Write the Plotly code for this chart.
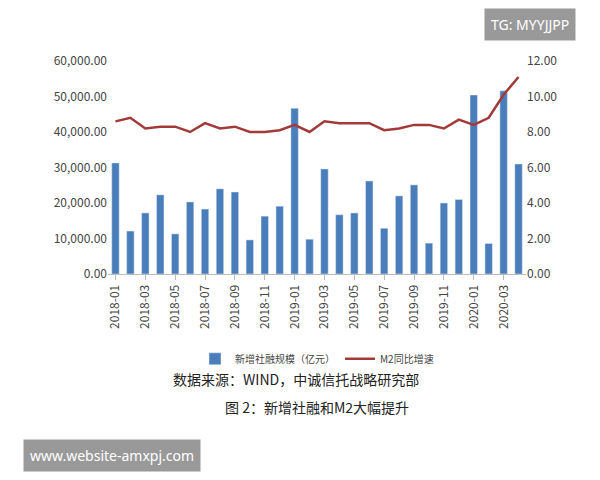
import plotly.graph_objects as go

months = [f"{y}-{m:02d}" for y in (2018, 2019, 2020) for m in range(1, 13)][:28]
tsf = [31300, 12100, 17200, 22300, 11300, 20300, 18300, 24000, 23100, 9600, 16300, 19100,
       46700, 9800, 29600, 16700, 17200, 26200, 12900, 22000, 25100, 8700, 20000, 21000,
       50400, 8600, 51600, 31000]
m2 = [8.6, 8.8, 8.2, 8.3, 8.3, 8.0, 8.5, 8.2, 8.3, 8.0, 8.0, 8.1,
      8.4, 8.0, 8.6, 8.5, 8.5, 8.5, 8.1, 8.2, 8.4, 8.4, 8.2, 8.7,
      8.4, 8.8, 10.1, 11.1]
left_ticks = [0, 10000, 20000, 30000, 40000, 50000, 60000]
left_labels = ["0.00", "10,000.00", "20,000.00", "30,000.00", "40,000.00", "50,000.00", "60,000.00"]
right_ticks = [0, 2, 4, 6, 8, 10, 12]
right_labels = ["0.00", "2.00", "4.00", "6.00", "8.00", "10.00", "12.00"]
shown = months[::2]

fig = go.Figure()
fig.add_bar(x=months, y=tsf, name="新增社融规模（亿元）", marker_color="#4a7ebb")
fig.add_scatter(x=months, y=m2, name="M2同比增速", yaxis="y2", mode="lines",
                line=dict(color="#a33a3a", width=2.5))
fnt = dict(family="Noto Sans CJK SC", size=12, color="#444")
fig.update_layout(
    width=600, height=480, paper_bgcolor="white", plot_bgcolor="white",
    margin=dict(l=100, r=82, t=53, b=214), font=fnt, bargap=0.5,
    xaxis=dict(type="category", tickvals=shown, ticktext=shown, tickangle=-90,
               showline=True, linecolor="#bbb", ticks="outside", tickcolor="#bbb"),
    yaxis=dict(range=[0, 60000], tickvals=left_ticks, ticktext=left_labels, showgrid=False),
    yaxis2=dict(range=[0, 12], tickvals=right_ticks, ticktext=right_labels, overlaying="y",
                side="right", showgrid=False),
    legend=dict(orientation="h", x=0.5, xanchor="center", y=-0.33, yanchor="top",
                font=dict(family="Noto Sans CJK SC", size=10, color="#444")),
    annotations=[
        dict(text="数据来源：WIND，中诚信托战略研究部", xref="paper", yref="paper", x=0.45, y=-0.55,
             showarrow=False, font=dict(family="Noto Sans CJK SC", size=14, color="#222")),
        dict(text="图 2：新增社融和M2大幅提升", xref="paper", yref="paper", x=0.5, y=-0.68,
             showarrow=False, font=dict(family="Noto Sans CJK SC", size=14, color="#222")),
        dict(text="TG: MYYJJPP", xref="paper", yref="paper", x=1.01, y=1.25, xanchor="center",
             showarrow=False, bgcolor="#999", font=dict(family="Noto Sans", size=14, color="white"),
             borderpad=6),
        dict(text="www.website-amxpj.com", xref="paper", yref="paper", x=0.01, y=-0.93, xanchor="center",
             showarrow=False, bgcolor="#999", font=dict(family="Noto Sans", size=14, color="white"),
             borderpad=6),
    ],
)
fig.write_html("out.html")
